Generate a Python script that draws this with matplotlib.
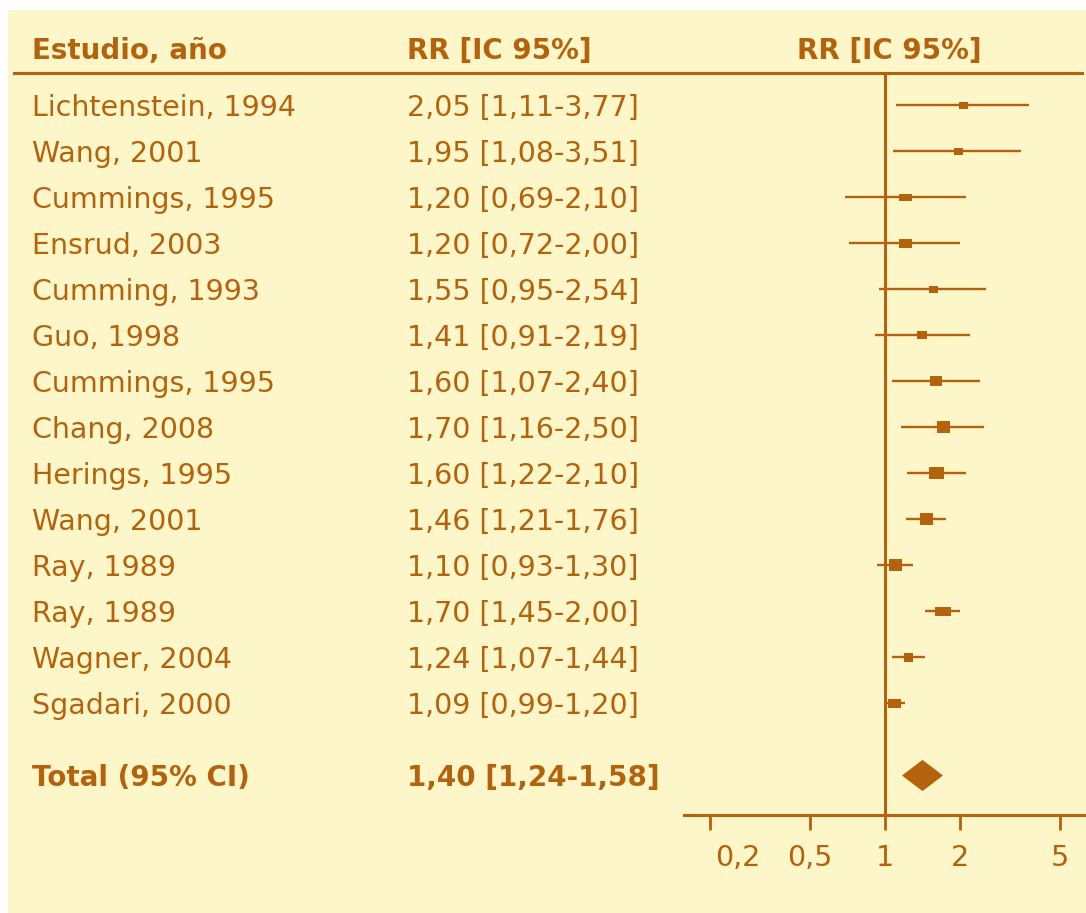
import matplotlib.pyplot as plt
import matplotlib.transforms as mtransforms
from matplotlib.ticker import NullLocator

# studies, relative risk and 95% CI
studies = ["Lichtenstein, 1994", "Wang, 2001", "Cummings, 1995", "Ensrud, 2003",
           "Cumming, 1993", "Guo, 1998", "Cummings, 1995", "Chang, 2008",
           "Herings, 1995", "Wang, 2001", "Ray, 1989", "Ray, 1989",
           "Wagner, 2004", "Sgadari, 2000"]
rr = [2.05, 1.95, 1.20, 1.20, 1.55, 1.41, 1.60, 1.70, 1.60, 1.46, 1.10, 1.70, 1.24, 1.09]
ci_lo = [1.11, 1.08, 0.69, 0.72, 0.95, 0.91, 1.07, 1.16, 1.22, 1.21, 0.93, 1.45, 1.07, 0.99]
ci_hi = [3.77, 3.51, 2.10, 2.00, 2.54, 2.19, 2.40, 2.50, 2.10, 1.76, 1.30, 2.00, 1.44, 1.20]

total_rr, total_lo, total_hi = 1.40, 1.24, 1.58

ticks = [0.2, 0.5, 1, 2, 5]
tick_labels = ["0,2", "0,5", "1", "2", "5"]

# box size per study (pixels, width x height)
box_w = [9, 9, 13, 13, 9, 10, 12, 13, 15, 13, 13, 16, 9, 13]
box_h = [7, 7, 7, 9, 7, 9, 10, 12, 12, 12, 12, 9, 9, 9]

brown = "#B5620D"
bg = "#FDF6C8"

W, H = 1086, 913
fig = plt.figure(figsize=(W / 100, H / 100), dpi=100)
fig.patch.set_facecolor("white")
fig.add_artist(plt.Rectangle((8 / W, 0), 1 - 8 / W, 1 - 10 / H,
                             transform=fig.transFigure, facecolor=bg,
                             edgecolor="none", zorder=0))

ax = fig.add_axes([684 / W, (H - 815) / H, (W - 684) / W, (815 - 73) / H])
ax.set_facecolor("none")
ax.set_xscale("log")
ax.set_xlim(10 ** (-201 / 250), 10 ** (201 / 250))
ax.set_ylim(15.43, -0.696)

for s in ["top", "left", "right"]:
    ax.spines[s].set_visible(False)
ax.spines["bottom"].set_color(brown)
ax.spines["bottom"].set_linewidth(2.2)
ax.set_yticks([])
ax.set_xticks(ticks, labels=tick_labels)
ax.xaxis.set_minor_locator(NullLocator())
ax.tick_params(axis="x", direction="out", length=11, width=2, color=brown,
               labelcolor=brown, labelsize=20.5, pad=10)
# first label sits a bit to the right of its tick
lab = ax.get_xticklabels()[0]
lab.set_transform(lab.get_transform() +
                  mtransforms.ScaledTranslation(0.28, 0, fig.dpi_scale_trans))

ax.axvline(1, color=brown, lw=2.2, zorder=1)

rows = list(range(len(studies)))
ax.hlines(rows, ci_lo, ci_hi, color=brown, lw=1.7, zorder=2)
for i in rows:
    r = box_h[i] / box_w[i]
    ax.plot(rr[i], i, linestyle="none", color=brown, mew=0,
            marker=[(-1, -r), (1, -r), (1, r), (-1, r)], ms=box_w[i] * 0.72,
            zorder=3)

total_y = 14.57
ax.plot(total_rr, total_y, linestyle="none", color=brown, mew=0,
        marker=[(-1, 0), (0, 0.76), (1, 0), (0, -0.76)], ms=41 * 0.72, zorder=3)

# text columns
trans = mtransforms.blended_transform_factory(fig.transFigure, ax.transData)
txt = dict(transform=trans, color=brown, fontsize=20.5, va="center_baseline",
           family="DejaVu Sans")
bold = dict(txt, fontsize=20, fontweight="bold")
head_y = (48 - 105) / 46
ax.text(32 / W, head_y, "Estudio, año", **bold)
ax.text(407 / W, head_y, "RR [IC 95%]", **bold)
ax.text(889 / W, head_y, "RR [IC 95%]", ha="center", **bold)

for i in rows:
    ax.text(32 / W, i, studies[i], **txt)
    lbl = "{} [{}-{}]".format(*[f"{v:.2f}".replace(".", ",")
                                for v in (rr[i], ci_lo[i], ci_hi[i])])
    ax.text(407 / W, i, lbl, **txt)

total_lbl = "{} [{}-{}]".format(*[f"{v:.2f}".replace(".", ",")
                                  for v in (total_rr, total_lo, total_hi)])
ax.text(32 / W, total_y, "Total (95% CI)", **bold)
ax.text(407 / W, total_y, total_lbl, **bold)

# rule under the header
ax.plot([14 / W, 1082 / W], [-0.696, -0.696], transform=trans, color=brown,
        lw=2.2, clip_on=False)

fig.savefig("out.png", dpi=100)
